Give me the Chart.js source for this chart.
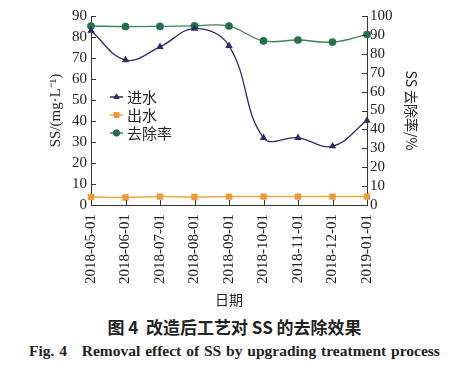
<!DOCTYPE html>
<html>
<head>
<meta charset="utf-8">
<script src="https://cdn.jsdelivr.net/npm/chart.js@4.4.0/dist/chart.umd.min.js"></script>
<style>
  body { margin: 0; background: #fff; }
  #wrap { width: 469px; height: 312px; position: relative; }
  .cap1 { position: absolute; top: 314px; width: 469px; text-align: center; font: bold 17px "Noto Sans CJK SC"; color: #222; }
  .cap2 { position: absolute; top: 342px; width: 469px; text-align: center; font: bold 15.5px "Liberation Serif"; color: #222; word-spacing: 1px; }
</style>
</head>
<body>
<div id="wrap"><canvas id="ssChart"></canvas></div>
<div class="cap1">图 4&nbsp;&nbsp;改造后工艺对 SS 的去除效果</div>
<div class="cap2">Fig. 4&nbsp;&nbsp;&nbsp;Removal effect of SS by upgrading treatment process</div>
<script>
var dates = ['2018-05-01', '2018-06-01', '2018-07-01', '2018-08-01', '2018-09-01',
             '2018-10-01', '2018-11-01', '2018-12-01', '2019-01-01'];
var inflow = [83, 69, 75.3, 84, 75.8, 32, 32, 28, 40.2];
var outflow = [3.8, 3.6, 4, 3.8, 4, 4, 4, 4, 4];
var removal = [94.7, 94.4, 94.5, 94.8, 94.7, 86.8, 87.3, 86.2, 90.2];
var leftTicks = [0, 10, 20, 30, 40, 50, 60, 70, 80, 90];
var rightTicks = [0, 10, 20, 30, 40, 50, 60, 70, 80, 90, 100];

var axisColor = '#333';
var tickFont = { family: 'Liberation Serif', size: 15 };

// ticks drawn inward, like the print figure
var innerTicks = {
    id: 'innerTicks',
    afterDraw: function(chart) {
        var ctx = chart.ctx, a = chart.chartArea;
        ctx.save();
        ctx.strokeStyle = axisColor;
        ctx.lineWidth = 1;
        ctx.beginPath();
        chart.scales.y.ticks.forEach(function(t) {
            var p = Math.round(chart.scales.y.getPixelForValue(t.value)) + 0.5;
            ctx.moveTo(a.left, p); ctx.lineTo(a.left + 5, p);
        });
        chart.scales.y2.ticks.forEach(function(t) {
            var p = Math.round(chart.scales.y2.getPixelForValue(t.value)) + 0.5;
            ctx.moveTo(a.right, p); ctx.lineTo(a.right - 5, p);
        });
        chart.scales.x.ticks.forEach(function(t, i) {
            var p = Math.round(chart.scales.x.getPixelForTick(i)) + 0.5;
            ctx.moveTo(p, a.bottom); ctx.lineTo(p, a.bottom - 5);
        });
        ctx.stroke();
        ctx.restore();
    }
};

var innerLegend = {
    id: 'innerLegend',
    afterDraw: function(chart) {
        var ctx = chart.ctx;
        var x = 110, y = 97;
        ctx.save();
        chart.data.datasets.forEach(function(ds, i) {
            var yy = y + i * 18;
            ctx.strokeStyle = ds.borderColor;
            ctx.lineWidth = 1.5;
            ctx.beginPath();
            ctx.moveTo(x, yy); ctx.lineTo(x + 13, yy);
            ctx.stroke();
            ctx.fillStyle = ds.pointBackgroundColor;
            ctx.strokeStyle = ds.pointBorderColor;
            ctx.lineWidth = 1;
            Chart.helpers.drawPoint(ctx, {
                pointStyle: ds.pointStyle, radius: ds.pointRadius, borderWidth: 1
            }, x + 6.5, yy);
            ctx.fillStyle = '#222';
            ctx.font = '15px "Noto Sans CJK SC"';
            ctx.textBaseline = 'middle';
            ctx.fillText(ds.label, x + 17, yy);
        });
        ctx.restore();
    }
};

new Chart(document.getElementById('ssChart'), {
    type: 'line',
    data: {
        labels: dates,
        datasets: [
            {
                label: '进水', data: inflow, yAxisID: 'y',
                borderColor: '#2d2b6b', backgroundColor: '#2d2b6b',
                pointBackgroundColor: '#2d2b6b', pointBorderColor: '#2d2b6b',
                pointStyle: 'triangle', pointRadius: 3, borderWidth: 1.3, tension: 0.4
            },
            {
                label: '出水', data: outflow, yAxisID: 'y',
                borderColor: '#f0a445', backgroundColor: '#ef9a3a',
                pointBackgroundColor: '#ef9a3a', pointBorderColor: '#ef9a3a',
                pointStyle: 'rect', pointRadius: 3.5, borderWidth: 1.5, tension: 0.4
            },
            {
                label: '去除率', data: removal, yAxisID: 'y2',
                borderColor: '#3a8656', backgroundColor: '#27704a',
                pointBackgroundColor: '#27704a', pointBorderColor: '#27704a',
                pointStyle: 'circle', pointRadius: 3.2, borderWidth: 1.3, tension: 0.4
            }
        ]
    },
    options: {
        responsive: true,
        maintainAspectRatio: false,
        animation: false,
        layout: { padding: { top: 16, left: 43, right: 45, bottom: 0 } },
        plugins: { legend: { display: false }, tooltip: { enabled: false } },
        scales: {
            x: {
                offset: false,
                grid: { drawOnChartArea: false, drawTicks: false },
                border: { color: axisColor, width: 1 },
                ticks: { color: '#222', font: tickFont, minRotation: 90, maxRotation: 90, padding: 9, autoSkip: false },
                title: { display: true, text: '日期', color: '#222', font: { family: 'Noto Sans CJK SC', size: 14 }, padding: { top: 2 } },
                afterFit: function(s) { s.height = 107; }
            },
            y: {
                position: 'left', min: 0, max: 90,
                grid: { drawOnChartArea: false, drawTicks: false },
                border: { color: axisColor, width: 1 },
                afterBuildTicks: function(s) { s.ticks = leftTicks.map(function(v) { return { value: v }; }); },
                ticks: { color: '#222', font: tickFont, padding: 4, autoSkip: false },
                title: { display: true, text: 'SS/(mg·L⁻¹)', color: '#222', font: { family: 'Liberation Serif', size: 15 } },
                afterFit: function(s) { s.width = 48; }
            },
            y2: {
                position: 'right', min: 0, max: 100,
                grid: { drawOnChartArea: false, drawTicks: false },
                border: { color: axisColor, width: 1 },
                afterBuildTicks: function(s) { s.ticks = rightTicks.map(function(v) { return { value: v }; }); },
                ticks: { color: '#222', font: tickFont, padding: 3, autoSkip: false },
                title: { display: true, text: 'SS 去除率/%', color: '#222', font: { family: 'Noto Sans CJK SC', size: 14 } },
                afterFit: function(s) { s.width = 57; }
            }
        }
    },
    plugins: [innerTicks, innerLegend]
});
</script>
</body>
</html>
